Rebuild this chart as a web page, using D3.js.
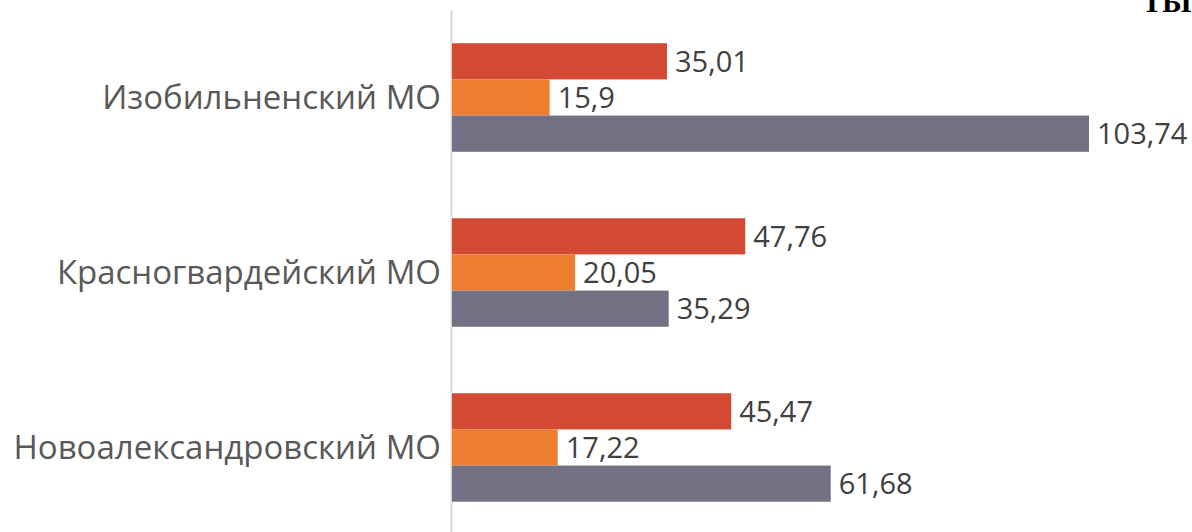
<!DOCTYPE html>
<html>
<head>
<meta charset="utf-8">
<script src="https://cdn.jsdelivr.net/npm/d3@7"></script>
<style>
  body { margin: 0; background: #fff; }
  svg { display: block; }
</style>
</head>
<body>
<div id="chart"></div>
<script>
// categories and series
const categories = ["Изобильненский МО", "Красногвардейский МО", "Новоалександровский МО"];
const seriesRed = [35.01, 47.76, 45.47];
const seriesOrange = [15.9, 20.05, 17.22];
const seriesGray = [103.74, 35.29, 61.68];
const seriesColors = ["#d24a33", "#ed7d31", "#727083"];
const unitLabel = "ТЫС. РУБ.";

var width = 1192, height = 532;

var svg = d3.select("#chart")
    .append("svg")
    .attr("width", width)
    .attr("height", height);

var series = [seriesRed, seriesOrange, seriesGray];

// scales
var x = d3.scaleLinear()
    .domain([0, 103.74])
    .range([452, 1089]);

var y = d3.scaleBand()
    .domain(categories)
    .range([10, 535])
    .paddingInner(0.38)
    .paddingOuter(0.19);

var inner = d3.scaleBand()
    .domain(d3.range(series.length))
    .range([0, y.bandwidth()]);

// vertical axis line
svg.append("line")
    .attr("x1", x(0) - 0.5)
    .attr("x2", x(0) - 0.5)
    .attr("y1", 10)
    .attr("y2", height)
    .attr("stroke", "#d9d9d9")
    .attr("stroke-width", 2);

// bars + value labels
series.forEach(function(vals, si) {
    var g = svg.append("g");
    g.selectAll("rect")
        .data(vals)
        .join("rect")
            .attr("x", x(0))
            .attr("y", (d, i) => y(categories[i]) + inner(si))
            .attr("width", d => x(d) - x(0))
            .attr("height", inner.bandwidth())
            .attr("fill", seriesColors[si]);

    g.selectAll("text")
        .data(vals)
        .join("text")
            .attr("x", d => x(d) + 8)
            .attr("y", (d, i) => y(categories[i]) + inner(si) + inner.bandwidth() / 2)
            .attr("dy", "0.36em")
            .attr("font-family", "'Open Sans', sans-serif")
            .attr("font-size", 29)
            .attr("fill", "#404040")
            .text(d => String(d).replace(".", ","));
});

// category labels
svg.append("g")
    .selectAll("text")
    .data(categories)
    .join("text")
        .attr("x", 441)
        .attr("y", d => y(d) + y.bandwidth() / 2)
        .attr("dy", "0.36em")
        .attr("text-anchor", "end")
        .attr("font-family", "'Open Sans', sans-serif")
        .attr("font-size", 33)
        .attr("fill", "#595959")
        .text(d => d);

// unit label, cut at the top edge as in the source
svg.append("text")
    .attr("x", 1142)
    .attr("y", 12)
    .attr("font-family", "'Liberation Serif', serif")
    .attr("font-weight", "bold")
    .attr("font-size", 30)
    .attr("fill", "#000")
    .text(unitLabel);
</script>
</body>
</html>
